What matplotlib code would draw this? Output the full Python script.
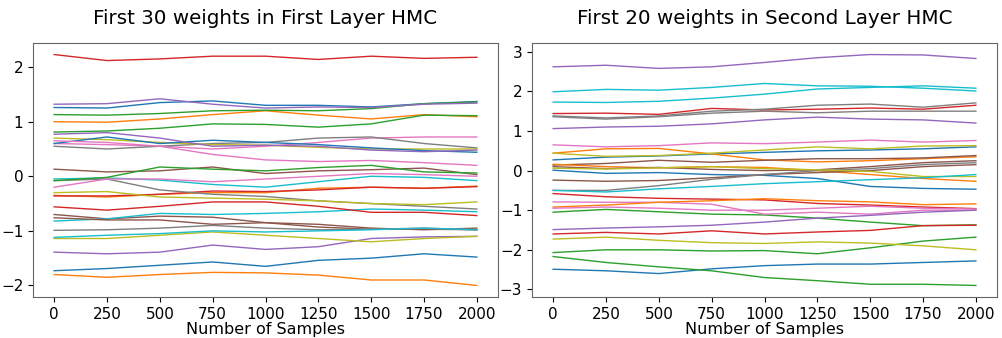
import numpy as np
import matplotlib
matplotlib.use("Agg")
import matplotlib.pyplot as plt

samples = [0, 250, 500, 750, 1000, 1250, 1500, 1750, 2000]

# first layer, 30 weights (order follows the default colour cycle)
first_layer = [
    [1.26, 1.25, 1.35, 1.38, 1.30, 1.30, 1.27, 1.33, 1.37],
    [1.00, 0.99, 1.05, 1.13, 1.20, 1.12, 1.05, 1.13, 1.09],
    [1.13, 1.12, 1.15, 1.20, 1.21, 1.20, 1.24, 1.33, 1.36],
    [2.23, 2.12, 2.15, 2.20, 2.20, 2.14, 2.20, 2.16, 2.18],
    [1.32, 1.33, 1.42, 1.32, 1.25, 1.27, 1.26, 1.32, 1.34],
    [0.13, 0.08, 0.10, 0.17, 0.05, 0.10, 0.12, 0.15, 0.03],
    [0.60, 0.58, 0.55, 0.50, 0.55, 0.62, 0.70, 0.72, 0.72],
    [0.55, 0.50, 0.55, 0.60, 0.62, 0.70, 0.72, 0.60, 0.52],
    [0.70, 0.67, 0.62, 0.58, 0.57, 0.53, 0.50, 0.50, 0.50],
    [-0.05, -0.03, -0.07, -0.15, -0.20, -0.10, 0.00, -0.02, -0.08],
    [0.60, 0.72, 0.60, 0.66, 0.62, 0.58, 0.52, 0.47, 0.44],
    [-0.35, -0.38, -0.33, -0.30, -0.30, -0.22, -0.20, -0.22, -0.18],
    [0.81, 0.83, 0.88, 0.96, 0.95, 0.90, 0.96, 1.12, 1.11],
    [-0.36, -0.36, -0.33, -0.27, -0.28, -0.25, -0.20, -0.22, -0.19],
    [0.77, 0.80, 0.70, 0.55, 0.57, 0.55, 0.48, 0.45, 0.48],
    [-0.70, -0.78, -0.73, -0.75, -0.85, -0.93, -0.97, -0.97, -0.98],
    [0.65, 0.62, 0.55, 0.40, 0.30, 0.27, 0.29, 0.25, 0.20],
    [-0.08, -0.05, -0.25, -0.33, -0.37, -0.45, -0.50, -0.55, -0.60],
    [-0.30, -0.28, -0.38, -0.40, -0.42, -0.45, -0.50, -0.52, -0.47],
    [-0.82, -0.78, -0.68, -0.70, -0.68, -0.65, -0.60, -0.62, -0.65],
    [-1.73, -1.69, -1.63, -1.57, -1.65, -1.54, -1.50, -1.42, -1.48],
    [-1.80, -1.85, -1.80, -1.76, -1.77, -1.81, -1.90, -1.90, -2.00],
    [-0.08, -0.02, 0.17, 0.13, 0.10, 0.16, 0.20, 0.08, 0.06],
    [-0.56, -0.62, -0.55, -0.47, -0.47, -0.55, -0.66, -0.66, -0.72],
    [-1.39, -1.42, -1.39, -1.26, -1.34, -1.29, -1.14, -1.11, -1.10],
    [-0.76, -0.80, -0.80, -0.88, -0.85, -0.88, -0.95, -0.98, -0.95],
    [-0.20, -0.05, -0.05, -0.10, -0.05, 0.00, 0.05, 0.03, 0.00],
    [-0.99, -0.98, -0.95, -0.90, -0.95, -0.98, -0.97, -0.95, -0.98],
    [-1.14, -1.14, -1.08, -1.02, -1.08, -1.14, -1.20, -1.14, -1.10],
    [-1.12, -1.08, -1.05, -1.00, -1.02, -1.00, -0.98, -0.95, -0.98],
]

# second layer weights
second_layer = [
    [0.27, 0.34, 0.37, 0.42, 0.46, 0.50, 0.52, 0.55, 0.60],
    [0.44, 0.55, 0.56, 0.42, 0.27, 0.22, 0.25, 0.30, 0.35],
    [-1.05, -0.98, -1.04, -1.10, -1.12, -1.20, -1.30, -1.39, -1.37],
    [1.44, 1.45, 1.42, 1.57, 1.53, 1.55, 1.58, 1.55, 1.65],
    [2.62, 2.66, 2.58, 2.62, 2.73, 2.85, 2.93, 2.92, 2.83],
    [0.14, 0.18, 0.26, 0.21, 0.26, 0.30, 0.30, 0.32, 0.38],
    [0.65, 0.60, 0.63, 0.70, 0.68, 0.72, 0.77, 0.72, 0.76],
    [1.38, 1.33, 1.38, 1.50, 1.55, 1.65, 1.68, 1.60, 1.71],
    [0.44, 0.36, 0.38, 0.44, 0.52, 0.60, 0.55, 0.62, 0.63],
    [1.99, 2.05, 2.03, 2.10, 2.20, 2.14, 2.13, 2.08, 2.01],
    [0.01, -0.07, -0.05, -0.10, -0.12, -0.20, -0.40, -0.45, -0.47],
    [0.16, 0.10, 0.07, 0.10, 0.08, 0.00, -0.10, -0.20, -0.27],
    [-2.07, -2.00, -2.00, -2.03, -2.02, -2.10, -1.95, -1.78, -1.68],
    [-0.58, -0.66, -0.70, -0.72, -0.74, -0.83, -0.87, -0.92, -0.96],
    [1.06, 1.10, 1.12, 1.18, 1.28, 1.35, 1.30, 1.28, 1.20],
    [-0.24, -0.27, -0.25, -0.18, -0.10, -0.05, 0.00, 0.10, 0.15],
    [-0.79, -0.80, -0.80, -0.85, -1.10, -1.05, -1.10, -1.00, -1.00],
    [1.36, 1.30, 1.36, 1.45, 1.50, 1.46, 1.50, 1.50, 1.50],
    [-1.73, -1.68, -1.76, -1.82, -1.84, -1.80, -1.83, -1.90, -2.00],
    [1.73, 1.72, 1.75, 1.83, 1.93, 2.06, 2.10, 2.14, 2.08],
    [-2.49, -2.53, -2.60, -2.48, -2.40, -2.36, -2.36, -2.32, -2.28],
    [-0.92, -0.87, -0.80, -0.76, -0.71, -0.76, -0.79, -0.86, -0.84],
    [-2.17, -2.32, -2.43, -2.53, -2.70, -2.78, -2.87, -2.87, -2.90],
    [-1.60, -1.56, -1.60, -1.52, -1.60, -1.55, -1.51, -1.39, -1.38],
    [-1.49, -1.45, -1.42, -1.38, -1.30, -1.20, -1.13, -1.05, -1.00],
    [0.10, 0.05, 0.08, 0.03, 0.00, 0.02, 0.10, 0.20, 0.25],
    [-0.95, -0.92, -0.95, -1.00, -1.00, -0.95, -0.90, -0.95, -0.97],
    [-0.50, -0.50, -0.38, -0.22, -0.10, 0.00, 0.05, 0.15, 0.20],
    [0.06, 0.04, 0.07, 0.10, 0.05, 0.02, -0.02, -0.15, -0.15],
    [-0.50, -0.54, -0.46, -0.40, -0.33, -0.28, -0.23, -0.18, -0.10],
]

titles = ["First 30 weights in First Layer HMC", "First 20 weights in Second Layer HMC"]
xlabel = "Number of Samples"

fig = plt.figure(figsize=(10.02, 3.38), dpi=100)
ax1 = fig.add_axes([33 / 1002, 41 / 338, 465 / 1002, 254 / 338])
ax2 = fig.add_axes([532 / 1002, 41 / 338, 465 / 1002, 254 / 338])

for ax, traces, title in zip([ax1, ax2], [first_layer, second_layer], titles):
    for tr in traces:
        ax.plot(samples, tr, lw=1.0)
    ax.set_title(title, fontsize=14.3, pad=14)
    ax.set_xlabel(xlabel, fontsize=11.5, labelpad=0)
    ax.set_xticks(np.arange(0, 2001, 250))
    ax.tick_params(labelsize=11)
    for sp in ax.spines.values():
        sp.set_color("0.4")

ax1.set_yticks([-2, -1, 0, 1, 2])
ax2.set_yticks([-3, -2, -1, 0, 1, 2, 3])

fig.savefig("out.png", dpi=100)
